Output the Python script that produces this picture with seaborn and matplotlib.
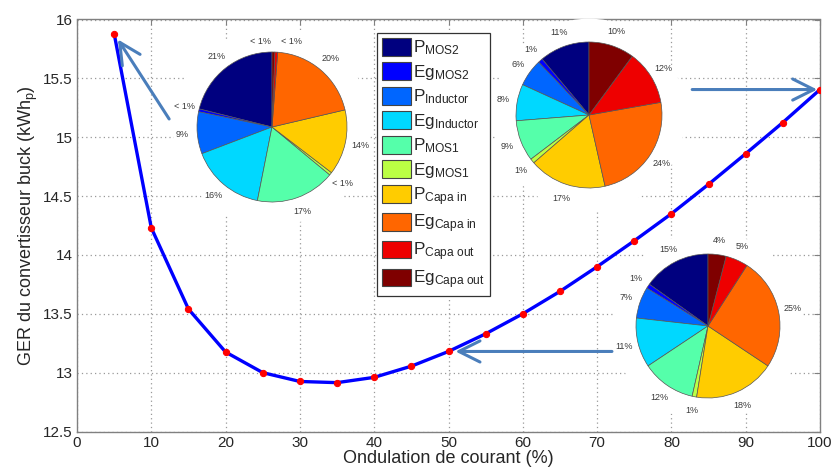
import matplotlib
matplotlib.use('Agg')
import matplotlib.pyplot as plt
import seaborn as sns
from matplotlib.patches import Circle, FancyArrowPatch, Patch

# courbe GER en fonction de l'ondulation de courant
ondulation = [5, 10, 15, 20, 25, 30, 35, 40, 45, 50,
              55, 60, 65, 70, 75, 80, 85, 90, 95, 100]
ger = [15.88, 14.23, 13.54, 13.175, 13.0, 12.925, 12.915, 12.96, 13.055, 13.18,
       13.33, 13.5, 13.69, 13.9, 14.12, 14.35, 14.6, 14.86, 15.125, 15.405]

# repartition du GER (%) pour trois points de la courbe
composants = ['P$_{\\mathrm{MOS2}}$', 'Eg$_{\\mathrm{MOS2}}$',
              'P$_{\\mathrm{Inductor}}$', 'Eg$_{\\mathrm{Inductor}}$',
              'P$_{\\mathrm{MOS1}}$', 'Eg$_{\\mathrm{MOS1}}$',
              'P$_{\\mathrm{Capa\\ in}}$', 'Eg$_{\\mathrm{Capa\\ in}}$',
              'P$_{\\mathrm{Capa\\ out}}$', 'Eg$_{\\mathrm{Capa\\ out}}$']
couleurs = ['#00007f', '#0000ff', '#0066ff', '#00d8ff', '#55ffaa',
            '#bbff44', '#ffcc00', '#ff6600', '#ee0000', '#7f0000']
repartition_5 = [21, 0.6, 9, 16, 17, 0.6, 14, 20, 0.6, 0.6]
repartition_100 = [11, 1, 6, 8, 9, 1, 17, 24, 12, 10]
repartition_50 = [15, 1, 7, 11, 12, 1, 18, 25, 5, 4]

sns.set_style('white')
plt.rcParams['font.family'] = ['Liberation Sans', 'DejaVu Sans']
plt.rcParams['mathtext.fontset'] = 'custom'
plt.rcParams['mathtext.rm'] = 'Liberation Sans'
plt.rcParams['mathtext.it'] = 'Liberation Sans:italic'

W, H = 833, 470
fig = plt.figure(figsize=(W / 100, H / 100), dpi=100)
fig.patch.set_facecolor('white')
ax = fig.add_axes([77 / W, (H - 431.5) / H, 743 / W, 412 / H])

sns.lineplot(x=ondulation, y=ger, ax=ax, color='#0000ff', linewidth=2.4,
             marker='o', markersize=4.5, markerfacecolor='#ff0000',
             markeredgecolor='#ff0000', zorder=3)

ax.set_xlim(0, 100)
ax.set_ylim(12.5, 16)
ax.set_xticks(range(0, 101, 10))
ax.set_yticks([12.5, 13, 13.5, 14, 14.5, 15, 15.5, 16])
ax.set_yticklabels(['12.5', '13', '13.5', '14', '14.5', '15', '15.5', '16'])
ax.grid(True, linestyle=(0, (1, 2.5)), color='#999999', linewidth=0.9)
ax.tick_params(direction='in', top=True, right=True, length=4, width=0.8,
               color='#808080', labelsize=11, labelcolor='#262626', pad=3)
for s in ax.spines.values():
    s.set_color('#808080')
    s.set_linewidth(1.0)
ax.set_xlabel('Ondulation de courant (%)', fontsize=13, color='#262626', labelpad=0)
ax.set_ylabel('GER du convertisseur buck (kWh$_\\mathrm{p}$)', fontsize=13,
              color='#262626', labelpad=2)

# legende
handles = [Patch(facecolor=c, edgecolor='#444444', linewidth=0.8) for c in couleurs]
leg = ax.legend(handles, composants, loc='upper left',
                bbox_to_anchor=((377 - 77) / 743, (431.5 - 33) / 412),
                borderaxespad=0, fontsize=12.3, handlelength=1.7, handleheight=1.2,
                labelspacing=0.3, handletextpad=0.12, borderpad=0.3,
                fancybox=False, framealpha=1)
leg.get_frame().set_edgecolor('#333333')
leg.get_frame().set_linewidth(0.9)


def add_pie(vals, cx, cy, r, nudges=None):
    half = 1.6
    pax = fig.add_axes([(cx - half * r) / W, (H - cy - half * r) / H,
                        2 * half * r / W, 2 * half * r / H])
    pax.add_patch(Circle((0, 0), 1.32, facecolor='white', edgecolor='none', zorder=0))
    labels = ['< 1%' if v < 1 else f'{v:.0f}%' for v in vals]
    wedges, texts = pax.pie(vals, colors=couleurs, labels=labels, startangle=90,
                            counterclock=True, labeldistance=1.2,
                            wedgeprops=dict(edgecolor='#555555', linewidth=0.5),
                            textprops=dict(fontsize=6.5, color='#3a3a3a'))
    for t in texts:
        t.set_ha('center')
        t.set_va('center')
    if nudges:
        for i, (dx, dy) in nudges.items():
            x0, y0 = texts[i].get_position()
            texts[i].set_position((x0 + dx, y0 + dy))
    pax.set_xlim(-half, half)
    pax.set_ylim(-half, half)
    pax.set_aspect('equal')
    pax.axis('off')


add_pie(repartition_5, 272, 127, 75, nudges={8: (0.19, -0.06), 9: (-0.17, -0.06)})
add_pie(repartition_100, 589, 115, 73)
add_pie(repartition_50, 708, 326, 72)

# fleches vers les points correspondants
fleche = dict(arrowstyle='->,head_length=0.4,head_width=0.2', color='#4a7ebb',
              lw=2.2, mutation_scale=38)
for (xt, yt), i, shrink in [((12.4, 15.155), 0, 5), ((82.8, ger[19]), 19, 2),
                            ((72.0, ger[9]), 9, 5)]:
    arr = FancyArrowPatch((xt, yt), (ondulation[i], ger[i]), transform=ax.transData,
                          shrinkA=0, shrinkB=shrink, zorder=5, **fleche)
    fig.add_artist(arr)

plt.savefig('out.png', dpi=100, facecolor='white')
